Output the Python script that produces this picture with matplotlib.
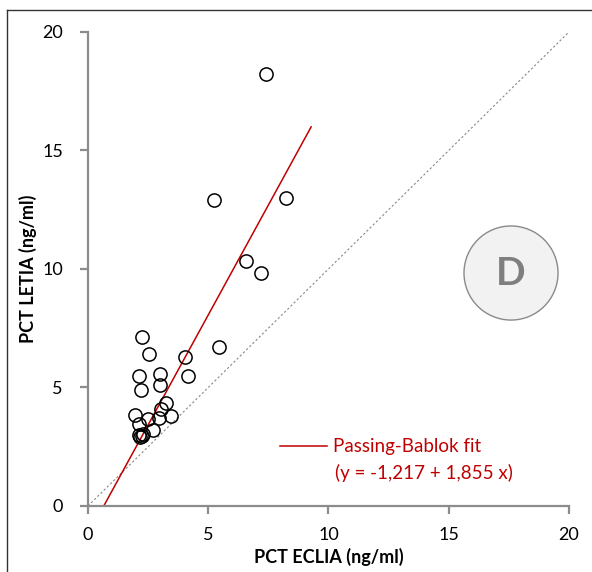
import numpy as np
import matplotlib
matplotlib.use("Agg")
import matplotlib.pyplot as plt
from matplotlib.patches import Ellipse
from matplotlib.lines import Line2D

plt.rcParams["font.family"] = ["Lato", "DejaVu Sans"]

# PCT by ECLIA (x) vs PCT by LETIA (y), ng/ml
eclia = [7.40, 5.24, 8.23, 6.57, 7.19, 2.26, 2.54, 4.03, 5.45, 2.13,
         2.98, 4.15, 2.20, 3.01, 3.23, 3.02, 3.45, 1.95, 2.48, 2.95,
         2.12, 2.72, 2.13, 2.23, 2.16, 2.27]
letia = [18.23, 12.91, 13.00, 10.34, 9.83, 7.14, 6.41, 6.30, 6.71, 5.49,
         5.56, 5.50, 4.89, 5.09, 4.36, 4.08, 3.81, 3.84, 3.67, 3.70,
         3.45, 3.21, 3.00, 2.95, 2.92, 3.03]

# Passing-Bablok fit
intercept = -1.217
slope = 1.855
fit_xmax = 9.28

ticks = [0, 5, 10, 15, 20]
panel = "D"

GRAY = "#8c8c8c"
RED = "#c00000"

fig = plt.figure(figsize=(5.92, 5.72), dpi=100)
ax = fig.add_axes([0.1486, 0.1154, 0.8125, 0.8287])

# figure frame (left and top only)
fig.add_artist(Line2D([6.5 / 592, 6.5 / 592], [0, 1 - 10 / 572],
                      transform=fig.transFigure, color="#333333", lw=1))
fig.add_artist(Line2D([6.5 / 592, 1], [1 - 10 / 572, 1 - 10 / 572],
                      transform=fig.transFigure, color="#333333", lw=1))

# identity line
ax.plot([0, 20], [0, 20], color="#888888", lw=0.8, ls=(0, (2, 2)))

# fit line
fx = np.array([-intercept / slope, fit_xmax])
ax.plot(fx, intercept + slope * fx, color=RED, lw=1.1,
        label="Passing-Bablok fit")

ax.plot(eclia, letia, "o", mfc="none", mec="black", mew=1.1, ms=9.5,
        zorder=3)

# panel badge
ax.add_patch(Ellipse((17.59, 9.83), 3.91, 3.97, facecolor="#f2f2f2",
                     edgecolor="#8a8a8a", lw=1.0, zorder=4))
ax.text(17.59, 9.83, panel, ha="center", va="center", fontsize=28,
        fontweight="bold", color="#7f7f7f", zorder=5)

ax.set_xlim(0, 20)
ax.set_ylim(0, 20)
ax.set_xticks(ticks)
ax.set_yticks(ticks)
ax.set_xticklabels([str(t) for t in ticks])
ax.set_yticklabels([str(t) for t in ticks])

for s in ["top", "right"]:
    ax.spines[s].set_visible(False)
for s in ["left", "bottom"]:
    ax.spines[s].set_color(GRAY)
    ax.spines[s].set_linewidth(1.6)
ax.tick_params(direction="out", length=6, width=1.6, color=GRAY,
               labelsize=13, pad=9)
ax.tick_params(axis="y", pad=12)

ax.set_xlabel("PCT ECLIA (ng/ml)", fontsize=13, fontweight="bold",
              labelpad=4)
ax.set_ylabel("PCT LETIA (ng/ml)", fontsize=13, fontweight="bold",
              labelpad=4)

leg = ax.legend(loc="upper left", bbox_to_anchor=(0.40, 0.143),
                frameon=False, fontsize=13.5, handlelength=2.5,
                handletextpad=0.3, borderpad=0, borderaxespad=0)
for t in leg.get_texts():
    t.set_color(RED)
ax.text(0.513, 0.07, "(y = %s + %s x)" % (
    f"{intercept:.3f}".replace(".", ","), f"{slope:.3f}".replace(".", ",")),
    transform=ax.transAxes, color=RED, fontsize=13.5, va="center")

fig.savefig("out.png", dpi=100)
